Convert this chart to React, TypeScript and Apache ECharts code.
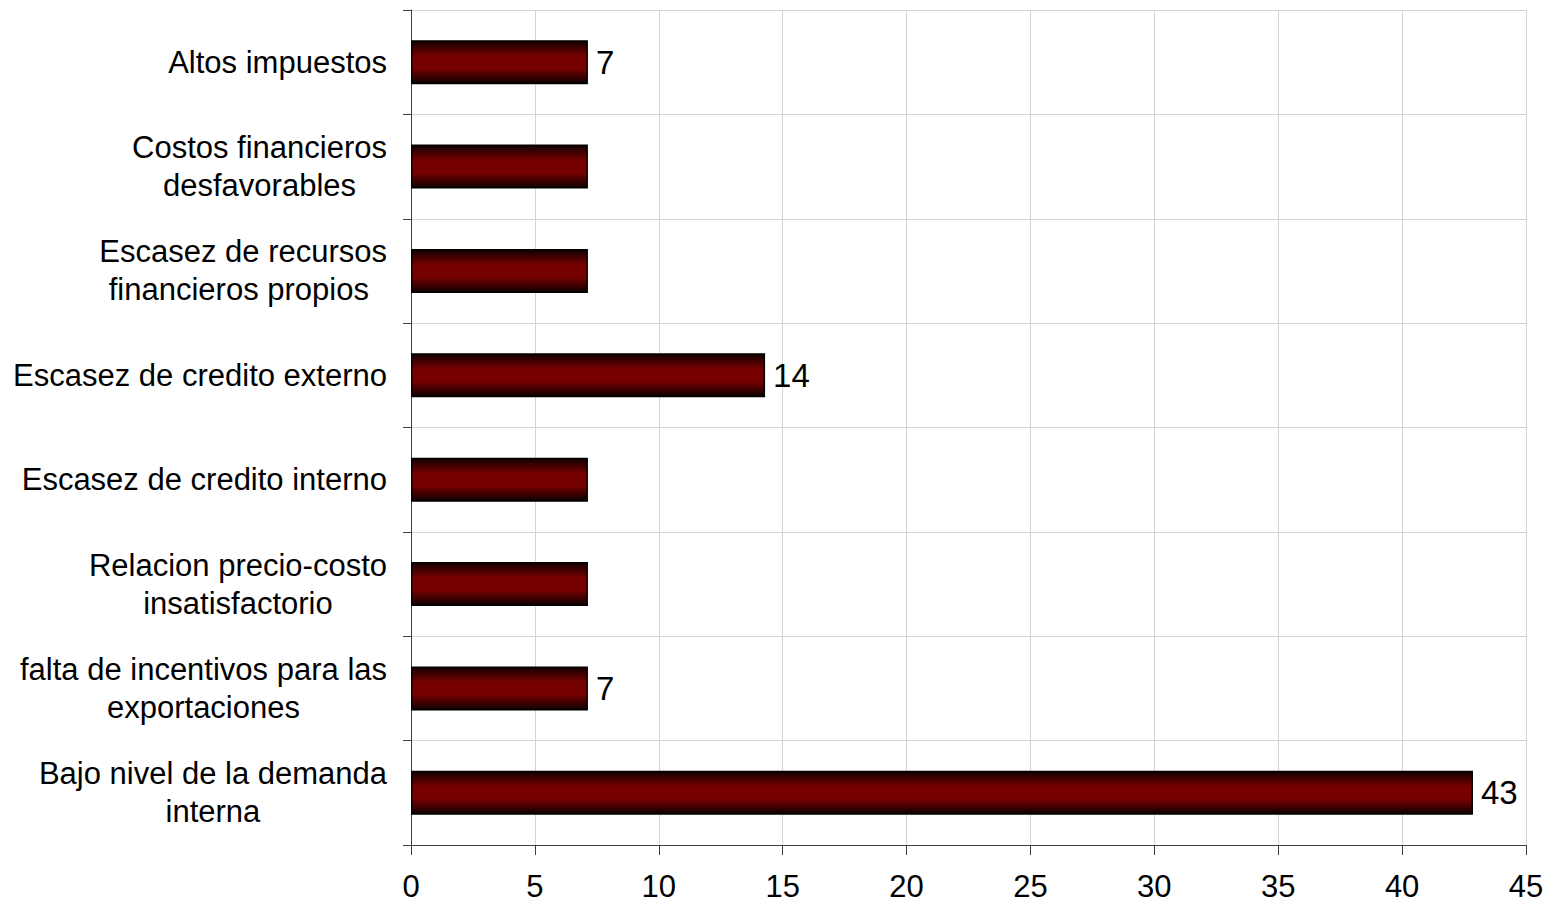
import React, { useEffect, useRef } from "react";
import * as echarts from "echarts";

const categories = [
  "Bajo nivel de la demanda\ninterna",
  "falta de incentivos para las\nexportaciones",
  "Relacion precio-costo\ninsatisfactorio",
  "Escasez de credito interno",
  "Escasez de credito externo",
  "Escasez de recursos\nfinancieros propios ",
  "Costos financieros\ndesfavorables",
  "Altos impuestos",
];
const values = [42.86, 7.14, 7.14, 7.14, 14.29, 7.14, 7.14, 7.14];
const showValueLabel = [true, true, false, false, true, false, false, true];
const xTicks = { min: 0, max: 45, interval: 5 };

const FONT = "Liberation Sans";

export default function App() {
  const ref = useRef<HTMLDivElement>(null);
  useEffect(() => {
    if (!ref.current) return;
    const chart = echarts.init(ref.current, undefined, { renderer: "svg" });
    const gradient = new echarts.graphic.LinearGradient(0, 0, 0, 1, [
      { offset: 0, color: "#120000" },
      { offset: 0.35, color: "#760000" },
      { offset: 0.65, color: "#760000" },
      { offset: 1, color: "#0c0000" },
    ]);
    chart.setOption({
      animation: false,
      backgroundColor: "#ffffff",
      grid: { left: 411, right: 24, top: 10, bottom: 67, containLabel: false },
      xAxis: {
        type: "value",
        min: xTicks.min,
        max: xTicks.max,
        interval: xTicks.interval,
        axisLine: { show: true, lineStyle: { color: "#404040", width: 1 } },
        axisTick: { show: true, length: 10, lineStyle: { color: "#404040" } },
        axisLabel: {
          color: "#000",
          fontFamily: FONT,
          fontSize: 31,
          margin: 26,
        },
        splitLine: { show: true, lineStyle: { color: "#d4d4d4", width: 1 } },
      },
      yAxis: {
        type: "category",
        data: categories,
        axisLine: { show: true, lineStyle: { color: "#404040", width: 1 } },
        axisTick: { show: true, length: 8, lineStyle: { color: "#404040" } },
        axisLabel: {
          margin: 24,
          formatter: (v: string) =>
            v
              .split("\n")
              .map((l) => "{c|" + l + "}")
              .join("\n"),
          rich: {
            c: {
              align: "center",
              color: "#000",
              fontFamily: FONT,
              fontSize: 31,
              lineHeight: 38,
            },
          },
        },
        splitLine: { show: true, lineStyle: { color: "#d4d4d4", width: 1 } },
      },
      series: [
        {
          type: "bar",
          barWidth: 44,
          data: values.map((v, i) => ({
            value: v,
            label: { show: showValueLabel[i] },
          })),
          itemStyle: { color: gradient, borderColor: "#000", borderWidth: 1.5 },
          label: {
            position: "right",
            distance: 8,
            color: "#000",
            fontFamily: FONT,
            fontSize: 33,
            formatter: (p: any) => String(Math.round(p.value)),
          },
        },
      ],
    });
    return () => chart.dispose();
  }, []);
  return (
    <div
      ref={ref}
      style={{ position: "absolute", left: 0, top: 0, width: 1550, height: 912 }}
    />
  );
}
